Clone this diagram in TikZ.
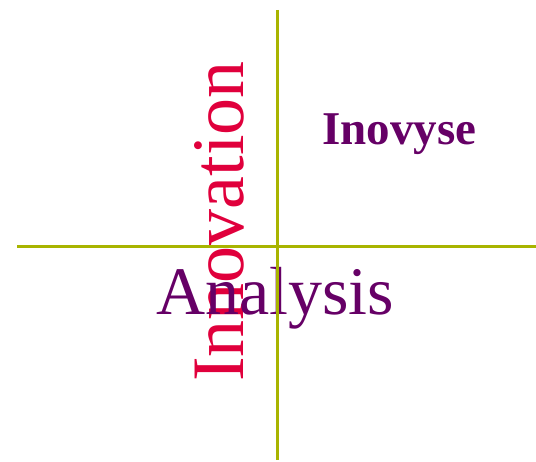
\documentclass[tikz,border=0pt]{standalone}
\usepackage{fontspec}
\setmainfont{Liberation Serif}
\usepackage{xcolor}
\usetikzlibrary{calc}
\usetikzlibrary{positioning}

\definecolor{axisolive}{HTML}{A8B400}
\definecolor{innored}{HTML}{E0003C}
\definecolor{anapurple}{HTML}{660066}

\begin{document}
\begin{tikzpicture}[x=1pt,y=1pt,
axis/.style={draw=axisolive, line width=3pt},
word/.style={inner sep=0pt, anchor=base west}
]
\useasboundingbox (0,0) rectangle (536,461);

\node[word, rotate=90, text=innored, font=\fontsize{74}{74}\selectfont] (inno) at (243,79) {Innovation};
\node[word, text=anapurple, font=\fontsize{68}{68}\selectfont] (ana) at (156,146) {Analysis};
\node[word, text=anapurple, font=\bfseries\fontsize{47}{47}\selectfont] (inov) at (322,316) {Inovyse};

\coordinate (vtop) at (277,451);
\coordinate (vbot) at (277,1);
\coordinate (hleft) at (17,214.5);
\coordinate (hright) at (536,214.5);

\draw[axis] (vtop) -- (vbot);
\draw[axis] (hleft) -- (hright);

\end{tikzpicture}
\end{document}
